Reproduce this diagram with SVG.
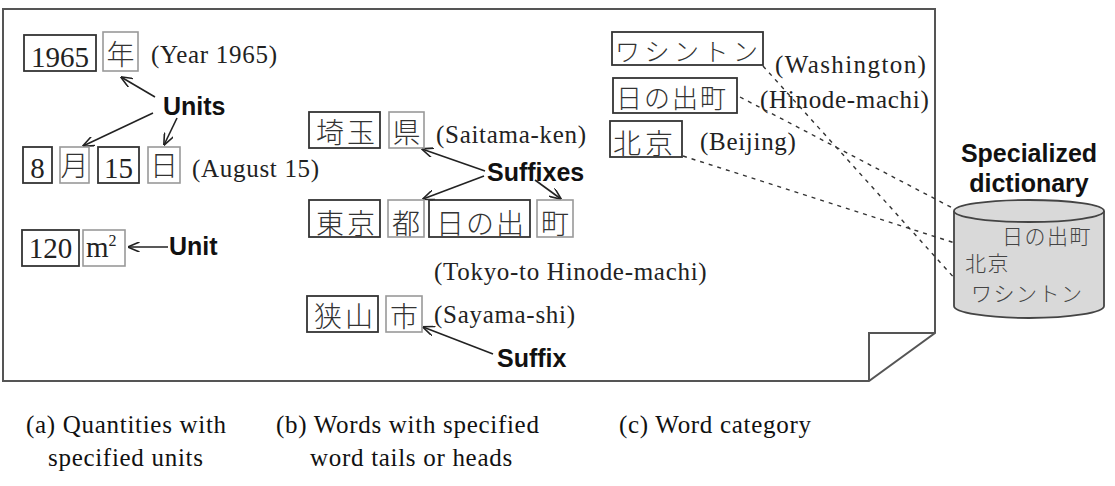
<svg xmlns="http://www.w3.org/2000/svg" width="1115" height="486" viewBox="0 0 1115 486">
<style>
.bg{fill:#fff}
.page{fill:#fff;stroke:#555;stroke-width:2}
.fold{fill:none;stroke:#555;stroke-width:2}
.bd{fill:none;stroke:#333;stroke-width:1.8}
.bl{fill:none;stroke:#999;stroke-width:1.6}
.ser{font-family:"Liberation Serif","DejaVu Serif",serif;font-size:25px;fill:#222;letter-spacing:0.7px}
.num{font-family:"Liberation Serif","DejaVu Serif",serif;font-size:29px;fill:#222;text-anchor:middle}
.cjk{font-family:"Noto Sans CJK JP","Noto Sans CJK SC",sans-serif;font-size:28px;fill:#333;font-weight:300}
.mid{text-anchor:middle}
.lab{font-family:"Liberation Sans",Arial,sans-serif;font-size:25px;font-weight:bold;fill:#111}
.arr{fill:none;stroke:#222;stroke-width:1.6;marker-end:url(#ah)}
.dash{fill:none;stroke:#333;stroke-width:1.4;stroke-dasharray:4 5}
.cyl{fill:#d9d9d9;stroke:#444;stroke-width:1.8}
.dic{font-family:"Noto Sans CJK JP","Noto Sans CJK SC",sans-serif;font-size:21px;fill:#444;font-weight:300;letter-spacing:1.5px}
.cap{font-family:"Liberation Serif","DejaVu Serif",serif;font-size:25px;fill:#111;letter-spacing:0.7px}
</style>
<defs>
<marker id="ah" viewBox="0 0 12 10" refX="11.5" refY="5" markerWidth="12" markerHeight="10" markerUnits="userSpaceOnUse" orient="auto">
<path d="M0,0 L12,5 L0,10" fill="none" stroke="#222" stroke-width="1.6"/>
</marker>
</defs>
<rect class="bg" x="0" y="0" width="1115" height="486"/>
<g id="page">
<path class="page" d="M3,9 H935 V333 L869,381 H3 Z"/>
<path class="fold" d="M869,381 V333 H935"/>
</g>
<g id="connectors">
<path class="arr" d="M155,97 L121,77"/>
<path class="arr" d="M153,113 L83,146"/>
<path class="arr" d="M177,118 L164,145"/>
<path class="arr" d="M168,247 L128,247"/>
<path class="arr" d="M485,171 L422,149"/>
<path class="arr" d="M484,176 L423,199"/>
<path class="arr" d="M535,180 L561,199"/>
<path class="arr" d="M493,354 L423,327"/>
<path class="dash" d="M763,66 L966,291"/>
<path class="dash" d="M740,97 L987,226"/>
<path class="dash" d="M683,156 L958,244"/>
</g>
<g id="year">
<rect class="bd" x="24" y="35" width="72" height="36"/>
<text class="num" x="60" y="67">1965</text>
<rect class="bl" x="103" y="32" width="35" height="39"/>
<text class="cjk mid" x="120.5" y="65">年</text>
<text class="ser" x="151" y="63">(Year 1965)</text>
</g>
<g id="date">
<rect class="bd" x="23" y="147" width="29" height="36"/>
<text class="num" x="37.5" y="178">8</text>
<rect class="bl" x="60" y="147" width="29" height="36"/>
<text class="cjk mid" x="74.5" y="176">月</text>
<rect class="bd" x="98" y="147" width="41" height="36"/>
<text class="num" x="118.5" y="178">15</text>
<rect class="bl" x="148" y="147" width="32" height="36"/>
<text class="cjk mid" x="164" y="176">日</text>
<text class="ser" x="192" y="177">(August 15)</text>
</g>
<g id="units"><text class="lab" x="163" y="115">Units</text></g>
<g id="area">
<rect class="bd" x="22" y="230" width="57" height="36"/>
<text class="num" x="50.5" y="258">120</text>
<rect class="bl" x="83" y="230" width="42" height="36"/>
<text x="86" y="257" style="font-family:'Liberation Serif',serif;font-size:29px;fill:#222">m<tspan dy="-11" style="font-size:16px">2</tspan></text>
</g>
<g id="unit"><text class="lab" x="169" y="255">Unit</text></g>
<g id="saitama">
<rect class="bd" x="309" y="112" width="71" height="36"/>
<text class="cjk" x="316" y="143" style="letter-spacing:3px">埼玉</text>
<rect class="bl" x="389" y="112" width="35" height="36"/>
<text class="cjk mid" x="406.5" y="143">県</text>
<text class="ser" x="436" y="143">(Saitama-ken)</text>
</g>
<g id="suffixes"><text class="lab" x="487" y="181">Suffixes</text></g>
<g id="tokyo">
<rect class="bd" x="309" y="200" width="71" height="37"/>
<text class="cjk" x="316" y="234" style="letter-spacing:3px">東京</text>
<rect class="bl" x="388" y="200" width="36" height="37"/>
<text class="cjk mid" x="406" y="234">都</text>
<rect class="bd" x="429" y="200" width="101" height="37"/>
<text class="cjk" x="436" y="234" style="letter-spacing:2px">日の出</text>
<rect class="bl" x="537" y="200" width="36" height="37"/>
<text class="cjk mid" x="555" y="234">町</text>
<text class="ser" x="434" y="280">(Tokyo-to Hinode-machi)</text>
</g>
<g id="sayama">
<rect class="bd" x="307" y="296" width="71" height="36"/>
<text class="cjk" x="314" y="327" style="letter-spacing:3px">狭山</text>
<rect class="bl" x="386" y="296" width="36" height="36"/>
<text class="cjk mid" x="404" y="327">市</text>
<text class="ser" x="434" y="323">(Sayama-shi)</text>
</g>
<g id="suffix"><text class="lab" x="497" y="367">Suffix</text></g>
<g id="washington">
<rect class="bd" x="612" y="32" width="151" height="33"/>
<text class="cjk" x="615" y="61" style="font-size:25px;letter-spacing:4.5px">ワシントン</text>
<text class="ser" x="775" y="73" style="letter-spacing:1.4px">(Washington)</text>
</g>
<g id="hinode">
<rect class="bd" x="613" y="78" width="124" height="35"/>
<text class="cjk" x="616" y="108" style="font-size:26px;letter-spacing:2px">日の出町</text>
<text class="ser" x="760" y="108">(Hinode-machi)</text>
</g>
<g id="beijing">
<rect class="bd" x="610" y="121" width="72" height="36"/>
<text class="cjk" x="613" y="154" style="letter-spacing:4px">北京</text>
<text class="ser" x="700" y="150">(Beijing)</text>
</g>
<g id="dictionary">
<text class="lab mid" x="1029" y="162">Specialized</text>
<text class="lab mid" x="1029" y="192">dictionary</text>
<path class="cyl" d="M954,211 V306 A75,12 0 0 0 1104,306 V211"/>
<ellipse class="cyl" cx="1029" cy="211" rx="75" ry="11"/>
<text class="dic" x="1002" y="244">日の出町</text>
<text class="dic" x="965" y="271">北京</text>
<text class="dic" x="971" y="301">ワシントン</text>
</g>
<g id="captions">
<text class="cap" x="26" y="433">(a) Quantities with</text>
<text class="cap" x="48" y="466">specified units</text>
<text class="cap" x="276" y="433">(b) Words with specified</text>
<text class="cap" x="310" y="466">word tails or heads</text>
<text class="cap" x="619" y="433">(c) Word category</text>
</g>
</svg>
